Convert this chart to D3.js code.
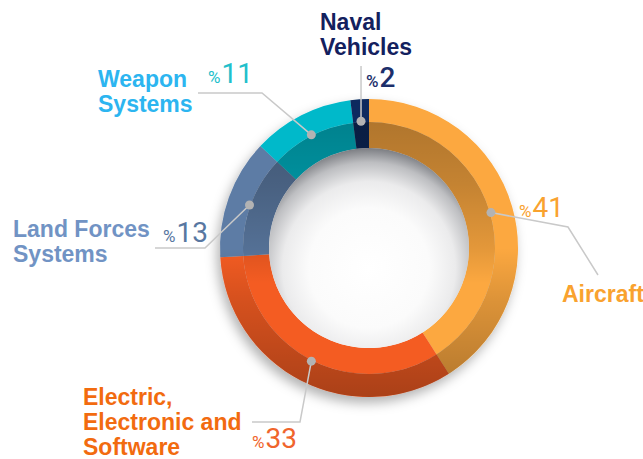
<!DOCTYPE html>
<html>
<head>
<meta charset="utf-8">
<script src="https://cdn.jsdelivr.net/npm/d3@7"></script>
<style>
  html, body { margin: 0; padding: 0; background: #ffffff; }
  svg { display: block; }
</style>
</head>
<body>
<svg id="chart" width="643" height="459"></svg>
<script>
// Segment data, clockwise from 12 o'clock
const categories = ["Aircraft", "Electric, Electronic and Software", "Land Forces Systems", "Weapon Systems", "Naval Vehicles"];
const shares = [41, 33, 13, 11, 2];
const valueLabels = ["41", "33", "13", "11", "2"];

// Presentation
const sliceColors = ["#fca83f", "#f45b22", "#5d7ca5", "#00b9ca", "#0b2b5f"];
const nameColors = ["#f9a22f", "#f26b0f", "#7193c4", "#2cb5f0", "#13205e"];
const numberColors = ["#f9a22f", "#f0652c", "#5877a1", "#22bfcb", "#1c2f6b"];

const W = 643, H = 459;
const cx = 369, cy = 248;
const R = 149, Rmid = 126, Rin = 100, Rdot = 127;

const svg = d3.select("#chart");
const defs = svg.append("defs");

// Soft shadow under the ring
const sh = defs.append("filter").attr("id", "ringShadow")
  .attr("x", "-30%").attr("y", "-30%").attr("width", "160%").attr("height", "160%");
sh.append("feDropShadow").attr("dx", -3).attr("dy", 6).attr("stdDeviation", 6)
  .attr("flood-color", "#000").attr("flood-opacity", 0.3);

// Bevel shading for the two bands (coordinates local to the ring group)
const outerShade = defs.append("linearGradient").attr("id", "outerShade")
  .attr("gradientUnits", "userSpaceOnUse")
  .attr("x1", 0).attr("y1", -R).attr("x2", 0).attr("y2", R);
[[0, 0], [0.5, 0], [0.68, 0.13], [1, 0.3]].forEach(([o, a]) =>
  outerShade.append("stop").attr("offset", o).attr("stop-color", "#000").attr("stop-opacity", a));

const innerShade = defs.append("linearGradient").attr("id", "innerShade")
  .attr("gradientUnits", "userSpaceOnUse")
  .attr("x1", 0).attr("y1", -Rmid).attr("x2", 0).attr("y2", Rmid);
[[0, 0.3], [0.25, 0.22], [0.5, 0.1], [0.64, 0], [1, 0]].forEach(([o, a]) =>
  innerShade.append("stop").attr("offset", o).attr("stop-color", "#000").attr("stop-opacity", a));

// Hollow centre with an inner shadow falling from the top
const hole = defs.append("radialGradient").attr("id", "holeFill")
  .attr("cx", 0.5).attr("cy", 0.6).attr("r", 0.6);
[[0, "#ffffff"], [0.5, "#fbfbfb"], [0.72, "#ebebec"], [0.88, "#bdbec1"], [1, "#7b7d82"]].forEach(([o, c]) =>
  hole.append("stop").attr("offset", o).attr("stop-color", c));

const pie = d3.pie().sort(null).value(d => d).startAngle(0).endAngle(2 * Math.PI);
const arcs = pie(shares);

const outerArc = d3.arc().innerRadius(Rmid).outerRadius(R);
const innerArc = d3.arc().innerRadius(Rin).outerRadius(Rmid);
const dotArc = d3.arc().innerRadius(Rdot).outerRadius(Rdot);

const ring = svg.append("g").attr("transform", `translate(${cx},${cy})`);
const ringBody = ring.append("g").attr("filter", "url(#ringShadow)");

ringBody.selectAll("path.outer").data(arcs).join("path")
  .attr("class", "outer").attr("d", outerArc).attr("fill", (d, i) => sliceColors[i]);
ringBody.selectAll("path.inner").data(arcs).join("path")
  .attr("class", "inner").attr("d", innerArc).attr("fill", (d, i) => sliceColors[i]);

// Shading overlays
const fullOuter = d3.arc().innerRadius(Rmid).outerRadius(R).startAngle(0).endAngle(2 * Math.PI);
const fullInner = d3.arc().innerRadius(Rin).outerRadius(Rmid).startAngle(0).endAngle(2 * Math.PI);
ring.append("path").attr("d", fullOuter()).attr("fill", "url(#outerShade)");
ring.append("path").attr("d", fullInner()).attr("fill", "url(#innerShade)");

// Centre disc
svg.append("circle").attr("cx", cx).attr("cy", cy).attr("r", Rin).attr("fill", "url(#holeFill)");

// Label layout
const layout = [
  { lines: ["Aircraft"], x: 562, y: 302, num: [519, 217], lead: [[598, 275], [568, 227]] },
  { lines: ["Electric,", "Electronic and", "Software"], x: 83, y: 405, num: [252, 448], lead: [[252, 422], [300, 422]] },
  { lines: ["Land Forces", "Systems"], x: 13, y: 237, num: [163, 242], lead: [[155, 248], [205, 248]] },
  { lines: ["Weapon", "Systems"], x: 98, y: 87, num: [208, 83], lead: [[198, 93], [262, 93]] },
  { lines: ["Naval", "Vehicles"], x: 320, y: 30, num: [366, 87], lead: [] }
];

const leaders = svg.append("g");
arcs.forEach((a, i) => {
  const [dx, dy] = dotArc.centroid(a);
  const dot = [cx + dx, cy + dy];
  const L = layout[i];
  const pts = L.lead.length ? L.lead.concat([dot]) : [[dot[0], 66], dot];
  leaders.append("path")
    .attr("d", d3.line()(pts))
    .attr("fill", "none").attr("stroke", "#c9c9c9").attr("stroke-width", 1.5);
  leaders.append("circle").attr("cx", dot[0]).attr("cy", dot[1]).attr("r", 4.5)
    .attr("fill", "#b3b3b3");
});

const labels = svg.append("g");
layout.forEach((L, i) => {
  const t = labels.append("text")
    .attr("x", L.x).attr("y", L.y)
    .attr("font-family", "'Liberation Sans', Arial, sans-serif")
    .attr("font-weight", "bold").attr("font-size", 23)
    .attr("fill", nameColors[i]);
  L.lines.forEach((ln, k) => {
    t.append("tspan").attr("x", L.x).attr("dy", k === 0 ? 0 : 25).text(ln);
  });

  const n = labels.append("text")
    .attr("x", L.num[0]).attr("y", L.num[1])
    .attr("font-family", "Roboto, 'Open Sans', sans-serif")
    .attr("fill", numberColors[i]);
  n.append("tspan").attr("font-size", 17).attr("font-weight", i === 4 ? 500 : 400).text("%");
  n.append("tspan").attr("dx", 1).attr("font-size", 28).attr("font-weight", i === 4 ? 500 : 400).text(valueLabels[i]);
});
</script>
</body>
</html>
